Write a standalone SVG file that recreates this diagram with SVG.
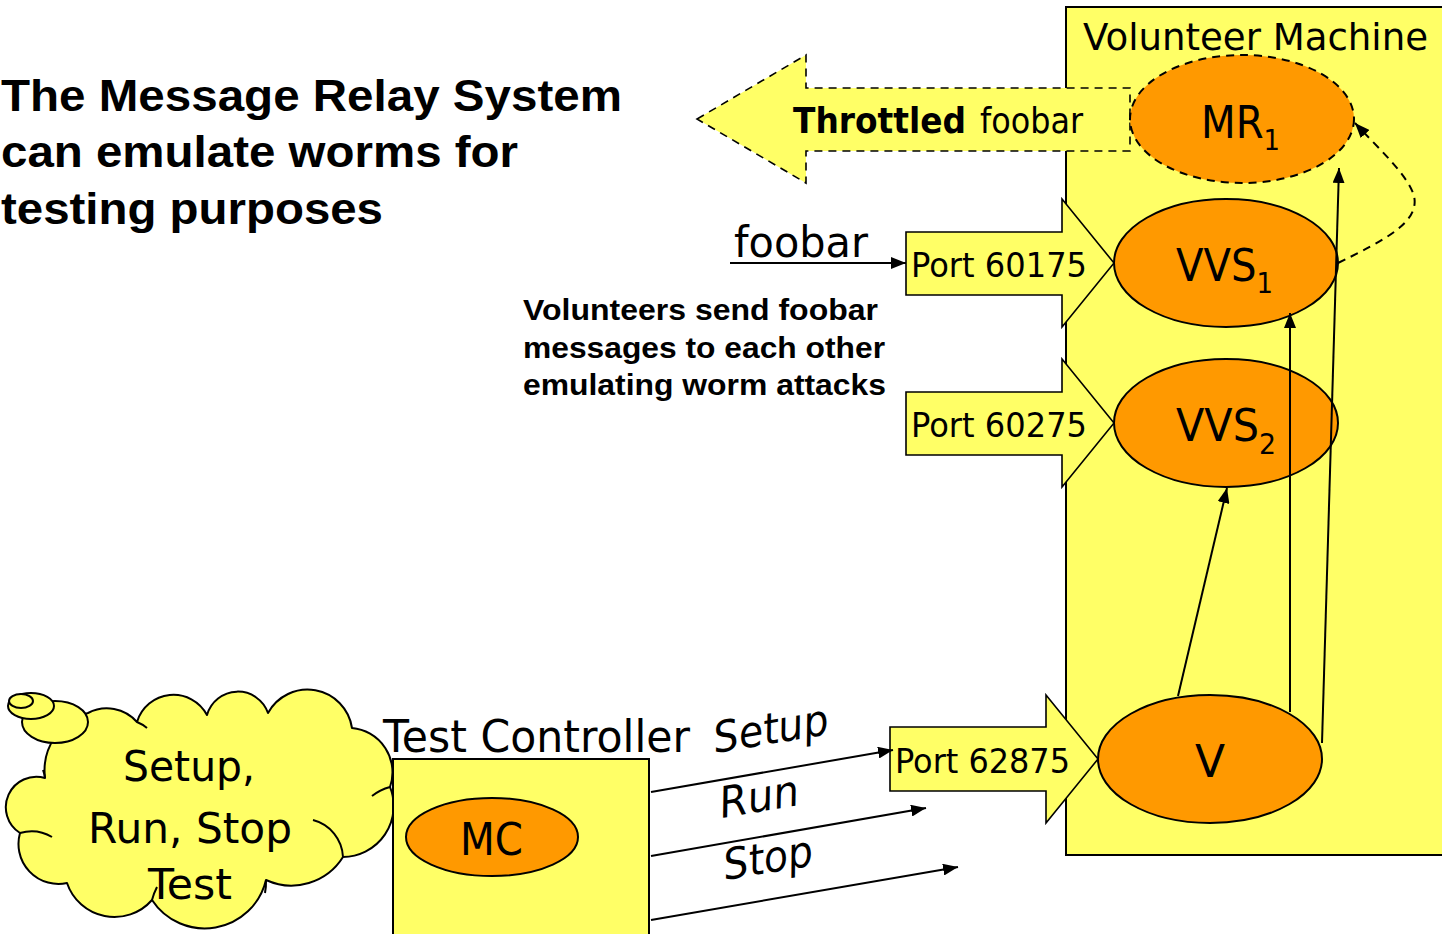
<svg xmlns="http://www.w3.org/2000/svg" width="1442" height="934" viewBox="0 0 1442 934">
  <defs>
    <marker id="arr" viewBox="0 0 15 12" refX="15" refY="6" markerWidth="15" markerHeight="12" orient="auto" markerUnits="userSpaceOnUse">
      <path d="M0,0 L15,6 L0,12 z" fill="#000"/>
    </marker>
    <style>
      .box{fill:#FFFF66;stroke:#000;stroke-width:2}
      .blk{fill:#FFFF66;stroke:#000;stroke-width:1.6;stroke-linejoin:miter}
      .oval{fill:#FF9900;stroke:#000;stroke-width:2}
      .dash{stroke-dasharray:8 6}
      .t{font-family:"DejaVu Sans",Verdana,sans-serif;fill:#000}
      .tb{font-family:"DejaVu Sans",Verdana,sans-serif;font-weight:bold;fill:#000}
      .ti{font-family:"DejaVu Sans",Verdana,sans-serif;font-style:italic;fill:#000}
      .b{font-family:"Liberation Sans",Arial,sans-serif;font-weight:bold;fill:#000}
      .ln{stroke:#000;stroke-width:2;fill:none}
      .cl{fill:#FFFF66;stroke:#000;stroke-width:2;stroke-linejoin:round}
      .inner{fill:none;stroke:#000;stroke-width:2}
      .sub{font-size:29px}
    </style>
  </defs>

  <!-- heading -->
  <g id="title">
    <text class="b" x="1" y="111" font-size="45" textLength="621" lengthAdjust="spacingAndGlyphs">The Message Relay System</text>
    <text class="b" x="1" y="167" font-size="45" textLength="517" lengthAdjust="spacingAndGlyphs">can emulate worms for</text>
    <text class="b" x="1" y="224" font-size="45" textLength="382" lengthAdjust="spacingAndGlyphs">testing purposes</text>
  </g>

  <!-- volunteer machine container -->
  <g id="volunteer-machine">
    <rect class="box" x="1066" y="7" width="390" height="848"/>
    <text class="t" x="1083" y="50" font-size="38" textLength="345" lengthAdjust="spacingAndGlyphs">Volunteer Machine</text>
  </g>

  <!-- throttled output arrow -->
  <g id="throttled">
    <polygon class="blk dash" points="697,119 806,55 806,88 1130,88 1130,151 806,151 806,183"/>
    <text class="tb" x="793" y="133" font-size="35" textLength="173" lengthAdjust="spacingAndGlyphs">Throttled</text>
    <text class="t" x="980" y="133" font-size="35" textLength="103" lengthAdjust="spacingAndGlyphs">foobar</text>
  </g>

  <!-- port block arrows -->
  <g id="port-60175">
    <polygon class="blk" points="906,232 1062,232 1062,199 1114,263 1062,327 1062,295 906,295"/>
    <text class="t" x="911" y="277" font-size="34" textLength="176" lengthAdjust="spacingAndGlyphs">Port 60175</text>
  </g>
  <g id="port-60275">
    <polygon class="blk" points="906,392 1062,392 1062,359 1114,423 1062,487 1062,455 906,455"/>
    <text class="t" x="911" y="437" font-size="34" textLength="176" lengthAdjust="spacingAndGlyphs">Port 60275</text>
  </g>
  <g id="port-62875">
    <polygon class="blk" points="890,727 1046,727 1046,695 1098,759 1046,823 1046,791 890,791"/>
    <text class="t" x="895" y="773" font-size="34" textLength="175" lengthAdjust="spacingAndGlyphs">Port 62875</text>
  </g>

  <!-- processes on the volunteer machine -->
  <g id="mr1">
    <ellipse class="oval dash" cx="1242" cy="119" rx="112" ry="64"/>
    <text class="t" x="1201" y="138" font-size="45" textLength="79" lengthAdjust="spacingAndGlyphs">MR<tspan class="sub" dy="12">1</tspan></text>
  </g>
  <g id="vvs1">
    <ellipse class="oval" cx="1226" cy="263" rx="112" ry="64"/>
    <text class="t" x="1176" y="281" font-size="45" textLength="97" lengthAdjust="spacingAndGlyphs">VVS<tspan class="sub" dy="12">1</tspan></text>
  </g>
  <g id="vvs2">
    <ellipse class="oval" cx="1226" cy="423" rx="112" ry="64"/>
    <text class="t" x="1176" y="441" font-size="45" textLength="100" lengthAdjust="spacingAndGlyphs">VVS<tspan class="sub" dy="13">2</tspan></text>
  </g>
  <g id="v">
    <ellipse class="oval" cx="1210" cy="759" rx="112" ry="64"/>
    <text class="t" x="1210" y="777" font-size="44" text-anchor="middle">V</text>
  </g>

  <!-- foobar input label and explanation -->
  <g id="foobar-label">
    <text class="t" x="734" y="257" font-size="42" textLength="134" lengthAdjust="spacingAndGlyphs">foobar</text>
  </g>
  <g id="note">
    <text class="b" x="523" y="320" font-size="30" textLength="355" lengthAdjust="spacingAndGlyphs">Volunteers send foobar</text>
    <text class="b" x="523" y="357.5" font-size="30" textLength="362" lengthAdjust="spacingAndGlyphs">messages to each other</text>
    <text class="b" x="523" y="395" font-size="30" textLength="363" lengthAdjust="spacingAndGlyphs">emulating worm attacks</text>
  </g>

  <!-- thought cloud -->
  <g id="cloud">
    <path class="cl" d="M45,778 A60,60 0 0 1 88,713 A40,40 0 0 1 137,722 A38,38 0 0 1 207,715 A32,32 0 0 1 268,713 A45,45 0 0 1 352,728 A44.5,44.5 0 0 1 390,787 A51,51 0 0 1 343,857 A61,61 0 0 1 266,880 A63,63 0 0 1 152,900 A50,50 0 0 1 67,883 A40,40 0 0 1 20,833 A30.5,30.5 0 0 1 45,778 Z"/>
    <path class="inner" d="M137,722 A38,38 0 0 1 147,728"/>
    <path class="inner" d="M372,796 A51,51 0 0 1 390,787"/>
    <path class="inner" d="M313,820 A40,40 0 0 1 343,857"/>
    <path class="inner" d="M266,880 A61,61 0 0 1 265,893"/>
    <path class="inner" d="M152,900 A63,63 0 0 1 157,887"/>
    <path class="inner" d="M52,837 A40,40 0 0 0 20,833"/>
    <path class="inner" d="M43,770 A30.5,30.5 0 0 1 45,778"/>
    <ellipse class="cl" cx="55" cy="722" rx="33" ry="21"/>
    <ellipse class="cl" cx="31" cy="706" rx="23" ry="13"/>
    <ellipse class="cl" cx="21" cy="701" rx="12" ry="7"/>
    <text class="t" x="123" y="781" font-size="42" textLength="132" lengthAdjust="spacingAndGlyphs">Setup,</text>
    <text class="t" x="88" y="843" font-size="42" textLength="204" lengthAdjust="spacingAndGlyphs">Run, Stop</text>
    <text class="t" x="148" y="899" font-size="42" textLength="84" lengthAdjust="spacingAndGlyphs">Test</text>
  </g>

  <!-- test controller -->
  <g id="test-controller">
    <rect class="box" x="393" y="759" width="256" height="190"/>
    <text class="t" x="383" y="752" font-size="44" textLength="307" lengthAdjust="spacingAndGlyphs">Test Controller</text>
  </g>
  <g id="mc">
    <ellipse class="oval" cx="492" cy="837" rx="86" ry="39"/>
    <text class="t" x="460" y="855" font-size="44" textLength="63" lengthAdjust="spacingAndGlyphs">MC</text>
  </g>

  <!-- command labels -->
  <g id="command-labels">
    <text class="ti" transform="translate(716,753) rotate(-9.5)" font-size="43" textLength="116" lengthAdjust="spacingAndGlyphs">Setup</text>
    <text class="ti" transform="translate(722,818) rotate(-9.5)" font-size="43" textLength="80" lengthAdjust="spacingAndGlyphs">Run</text>
    <text class="ti" transform="translate(726,880) rotate(-9.5)" font-size="43" textLength="90" lengthAdjust="spacingAndGlyphs">Stop</text>
  </g>

  <!-- connectors -->
  <g id="connectors">
    <line class="ln" x1="730" y1="263" x2="906" y2="263" marker-end="url(#arr)"/>
    <line class="ln" x1="1178" y1="696" x2="1227" y2="488" marker-end="url(#arr)"/>
    <line class="ln" x1="1290" y1="712" x2="1290" y2="313" marker-end="url(#arr)"/>
    <line class="ln" x1="1322" y1="743" x2="1339" y2="168" marker-end="url(#arr)"/>
    <path class="ln dash" d="M1338,263 C1385,240 1420,222 1414,196 C1408,175 1378,148 1355,123" marker-end="url(#arr)"/>
    <line class="ln" x1="651" y1="792" x2="893" y2="750" marker-end="url(#arr)"/>
    <line class="ln" x1="651" y1="856" x2="926" y2="808" marker-end="url(#arr)"/>
    <line class="ln" x1="651" y1="920" x2="958" y2="867" marker-end="url(#arr)"/>
  </g>
</svg>
